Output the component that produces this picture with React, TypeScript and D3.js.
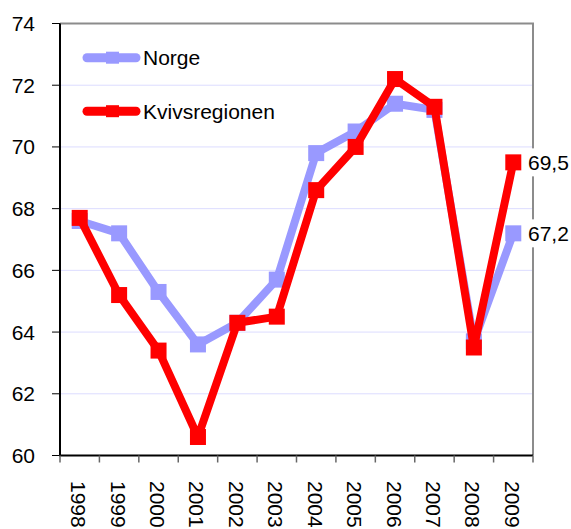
import React, { useEffect, useRef } from 'react';
import * as d3 from 'd3';

const years = ['1998', '1999', '2000', '2001', '2002', '2003', '2004', '2005', '2006', '2007', '2008', '2009'];
const norge = [67.6, 67.2, 65.3, 63.6, 64.3, 65.7, 69.8, 70.5, 71.4, 71.2, 63.7, 67.2];
const kvivs = [67.7, 65.2, 63.4, 60.6, 64.3, 64.5, 68.6, 70.0, 72.2, 71.3, 63.5, 69.5];
const yTicks = [60, 62, 64, 66, 68, 70, 72, 74];

const series = [
  { name: 'Norge', values: norge, color: '#9999ff', label: '67,2' },
  { name: 'Kvivsregionen', values: kvivs, color: '#ff0000', label: '69,5' },
];

const App: React.FC = () => {
  const svgRef = useRef<SVGSVGElement>(null);

  useEffect(() => {
    if (!svgRef.current) return;
    const svg = d3.select(svgRef.current);
    svg.selectAll('*').remove();

    const left = 60, right = 533, top = 23.5, bottom = 455.5;
    const font = 'Liberation Sans, Arial, sans-serif';

    const x = d3.scaleBand().domain(years).range([left, right]).padding(0);
    const cx = (d: string) => x(d)! + x.bandwidth() / 2;
    const y = d3.scaleLinear().domain([60, 74]).range([bottom, top]);

    // grid
    svg.append('g')
      .selectAll('line')
      .data(yTicks.slice(1, -1))
      .enter()
      .append('line')
      .attr('x1', left).attr('x2', right)
      .attr('y1', d => y(d)).attr('y2', d => y(d))
      .attr('stroke', '#dcdcff').attr('stroke-width', 1);

    // frame
    svg.append('path')
      .attr('d', `M${left},${top}H${right}V${bottom}`)
      .attr('fill', 'none').attr('stroke', '#8c8c8c').attr('stroke-width', 2);
    svg.append('path')
      .attr('d', `M${left},${top}V${bottom}H${right}`)
      .attr('fill', 'none').attr('stroke', '#000').attr('stroke-width', 2);

    // y axis
    const yg = svg.append('g');
    yg.selectAll('line')
      .data(yTicks)
      .enter()
      .append('line')
      .attr('x1', left - 8).attr('x2', left)
      .attr('y1', d => y(d)).attr('y2', d => y(d))
      .attr('stroke', '#000').attr('stroke-width', 1);
    yg.selectAll('text')
      .data(yTicks)
      .enter()
      .append('text')
      .attr('x', 35)
      .attr('y', d => y(d))
      .attr('text-anchor', 'end')
      .attr('dominant-baseline', 'central')
      .attr('font-family', font)
      .attr('font-size', 21)
      .attr('fill', '#000')
      .text(d => d);

    // x axis
    const bounds = years.map(d => x(d)!).concat([right]);
    const xg = svg.append('g');
    xg.selectAll('line')
      .data(bounds)
      .enter()
      .append('line')
      .attr('x1', d => d).attr('x2', d => d)
      .attr('y1', bottom).attr('y2', bottom + 7)
      .attr('stroke', '#666').attr('stroke-width', 1.5);
    xg.selectAll('text')
      .data(years)
      .enter()
      .append('text')
      .attr('transform', d => `translate(${cx(d) - 1},481) rotate(90)`)
      .attr('text-anchor', 'start')
      .attr('dominant-baseline', 'central')
      .attr('font-family', font)
      .attr('font-size', 21)
      .attr('fill', '#000')
      .text(d => d);

    // series
    const line = d3.line<number>()
      .x((_, i) => cx(years[i]))
      .y(d => y(d));

    series.forEach(s => {
      svg.append('path')
        .datum(s.values)
        .attr('fill', 'none')
        .attr('stroke', s.color)
        .attr('stroke-width', 8)
        .attr('stroke-linejoin', 'round')
        .attr('d', line);
      svg.append('g')
        .selectAll('rect')
        .data(s.values)
        .enter()
        .append('rect')
        .attr('x', (_, i) => cx(years[i]) - 8)
        .attr('y', d => y(d) - 8)
        .attr('width', 16)
        .attr('height', 16)
        .attr('fill', s.color);
    });

    // end labels
    series.forEach(s => {
      const v = s.values[s.values.length - 1];
      const ly = y(v);
      svg.append('rect')
        .attr('x', 525).attr('y', ly - 14)
        .attr('width', 46).attr('height', 28)
        .attr('fill', '#fff');
      svg.append('text')
        .attr('x', 528)
        .attr('y', ly)
        .attr('dominant-baseline', 'central')
        .attr('font-family', font)
        .attr('font-size', 21)
        .attr('fill', '#000')
        .text(s.label);
    });

    // legend
    const lg = svg.append('g');
    series.forEach((s, i) => {
      const ly = 57.7 + i * 53.5;
      lg.append('line')
        .attr('x1', 87).attr('x2', 136)
        .attr('y1', ly).attr('y2', ly)
        .attr('stroke', s.color)
        .attr('stroke-width', 9)
        .attr('stroke-linecap', 'round');
      lg.append('rect')
        .attr('x', 106).attr('y', ly - 6)
        .attr('width', 13).attr('height', 12)
        .attr('fill', s.color);
      lg.append('text')
        .attr('x', 143)
        .attr('y', ly)
        .attr('dominant-baseline', 'central')
        .attr('font-family', font)
        .attr('font-size', 21)
        .attr('fill', '#000')
        .text(s.name);
    });
  }, []);

  return (
    <svg ref={svgRef} width={571} height={529}
      style={{ position: 'absolute', left: 0, top: 0, background: '#fff' }} />
  );
};

export default App;
